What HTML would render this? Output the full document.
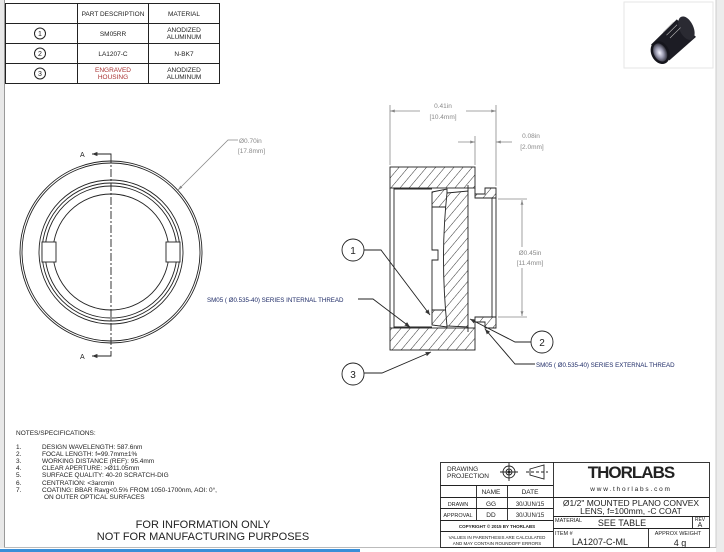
<!DOCTYPE html>
<html><head><meta charset="utf-8"><style>
html,body{margin:0;padding:0;background:#fff;}
svg{display:block;font-family:"Liberation Sans",sans-serif;}
</style></head><body>
<svg width="724" height="552" viewBox="0 0 724 552" xmlns="http://www.w3.org/2000/svg">
<defs>
<pattern id="h" patternUnits="userSpaceOnUse" width="7" height="7" patternTransform="rotate(40)">
<rect width="7" height="7" fill="#fff"/><line x1="0" y1="0" x2="0" y2="7" stroke="#333" stroke-width="1"/>
</pattern>
<marker id="ar" viewBox="0 0 10 10" refX="10" refY="5" markerWidth="6" markerHeight="6" orient="auto-start-reverse"><path d="M0,1 L10,5 L0,9z" fill="#333"/></marker>
<marker id="ag" viewBox="0 0 10 10" refX="10" refY="5" markerWidth="6" markerHeight="6" orient="auto-start-reverse"><path d="M0,2 L10,5 L0,8z" fill="#888"/></marker>
<radialGradient id="lg" cx="0.45" cy="0.5" r="0.55"><stop offset="0" stop-color="#f4f4ff"/><stop offset="0.5" stop-color="#9a9ab0"/><stop offset="1" stop-color="#2a2a34"/></radialGradient>
</defs>
<rect x="716" y="0" width="8" height="552" fill="#ececec"/>
<line x1="716" y1="0" x2="716" y2="548" stroke="#ccc"/>
<rect x="0" y="0" width="4" height="548" fill="#e8e8e8"/>
<line x1="4.5" y1="0" x2="4.5" y2="548" stroke="#999"/>
<line x1="4" y1="547.5" x2="716" y2="547.5" stroke="#bbb"/>
<rect x="0" y="549" width="360" height="3" fill="#3a8fd8"/>

<!-- parts table -->
<g stroke="#222" stroke-width="1" fill="none">
<rect x="5.5" y="3.5" width="214" height="80"/>
<line x1="5" y1="23.5" x2="220" y2="23.5"/><line x1="5" y1="43.5" x2="220" y2="43.5"/><line x1="5" y1="63.5" x2="220" y2="63.5"/>
<line x1="77.5" y1="3" x2="77.5" y2="84"/><line x1="148.5" y1="3" x2="148.5" y2="84"/>
<circle cx="40" cy="33.5" r="5.5"/><circle cx="40" cy="53.5" r="5.5"/><circle cx="40" cy="73.5" r="5.5"/>
</g>
<g font-size="6.5" fill="#222" text-anchor="middle">
<text x="113" y="16">PART DESCRIPTION</text><text x="184" y="16">MATERIAL</text>
<text x="40" y="36" font-size="7">1</text><text x="40" y="56" font-size="7">2</text><text x="40" y="76" font-size="7">3</text>
<text x="113" y="36">SM05RR</text><text x="184" y="32">ANODIZED</text><text x="184" y="39">ALUMINUM</text>
<text x="113" y="56">LA1207-C</text><text x="184" y="56">N-BK7</text>
<text x="113" y="72" fill="#a33">ENGRAVED</text><text x="113" y="79" fill="#a33">HOUSING</text><text x="184" y="72">ANODIZED</text><text x="184" y="79">ALUMINUM</text>
</g>
<!-- product image -->
<rect x="624" y="2" width="89" height="66" fill="#fff" stroke="#e6e6e6"/>
<g transform="translate(670,38) rotate(-25)">
<path d="M-20,-2 L14,-14 L24,10 L-10,20 Z" fill="#1c1c24"/>
<ellipse cx="19" cy="-2" rx="7" ry="12.5" fill="#2a2a32"/>
<ellipse cx="-15" cy="9" rx="9" ry="12" fill="#15151c"/>
<ellipse cx="-15" cy="9" rx="6.5" ry="9.5" fill="url(#lg)"/>
<path d="M-4,-8 L10,-13 M-2,-4 L12,-9 M0,0 L14,-5" stroke="#bbb" stroke-width="0.6"/>
</g>

<!-- front view -->
<g stroke="#222" fill="none" stroke-width="0.9">
<circle cx="111" cy="252" r="91"/><circle cx="111" cy="252" r="89"/>
<circle cx="111" cy="252" r="72"/><circle cx="111" cy="252" r="69"/><circle cx="111" cy="252" r="66"/><circle cx="111" cy="252" r="58"/>
<rect x="42" y="242" width="14" height="20" fill="#fff"/><rect x="166" y="242" width="14" height="20" fill="#fff"/>
<line x1="111" y1="155" x2="111" y2="355" stroke-dasharray="8,2,2,2"/>
<polyline points="111,155 111,154 92,154" marker-end="url(#ar)"/>
<polyline points="111,355 111,356 92,356" marker-end="url(#ar)"/>
</g>
<g font-size="7" fill="#222"><text x="80" y="157">A</text><text x="80" y="359">A</text></g>
<polyline points="178,190 228,140 238,140" fill="none" stroke="#888" stroke-width="0.8" marker-start="url(#ag)"/>
<g font-size="6.5" fill="#888"><text x="239" y="143">Ø0.70in</text><text x="238" y="153">[17.8mm]</text></g>

<!-- section view -->
<g stroke="#222" stroke-width="0.9">
<rect x="390" y="167" width="85" height="21" fill="url(#h)"/>
<rect x="390" y="328" width="85" height="22" fill="url(#h)"/>
<line x1="390" y1="188" x2="390" y2="328"/><line x1="394" y1="188" x2="394" y2="328"/>
<path d="M475,188 L475,194 L485,194 L485,188 L496,188 L496,198 L475,198 Z" fill="url(#h)"/>
<path d="M475,328 L475,322 L485,322 L485,328 L496,328 L496,317 L475,317 Z" fill="url(#h)"/>
<line x1="496" y1="198" x2="496" y2="317" fill="none"/><line x1="492" y1="198" x2="492" y2="317" fill="none"/>
<path d="M432,192 L447,189 L447,207 L432,207 Z" fill="url(#h)"/>
<path d="M432,310 L447,310 L447,327 L432,325 Z" fill="url(#h)"/>
<path d="M432,207 L432,250 L438,250 L438,260 L432,260 L432,310" fill="none"/>
<path d="M447,193 L468,191 L468,327 L447,326 Q440,258 447,193 Z" fill="url(#h)"/>
<line x1="468" y1="185" x2="468" y2="191"/><line x1="468" y1="327" x2="468" y2="332"/>
<line x1="394" y1="189" x2="432" y2="189"/><line x1="394" y1="327" x2="432" y2="327"/>
</g>
<!-- dims -->
<g stroke="#888" stroke-width="0.8" fill="none">
<line x1="390" y1="105" x2="390" y2="165"/><line x1="496" y1="105" x2="496" y2="186"/>
<line x1="390" y1="111" x2="420" y2="111" marker-start="url(#ag)"/><line x1="466" y1="111" x2="496" y2="111" marker-end="url(#ag)"/>
<line x1="475" y1="136" x2="475" y2="165"/>
<line x1="458" y1="142" x2="475" y2="142" marker-end="url(#ag)"/><line x1="496" y1="142" x2="512" y2="142" marker-start="url(#ag)"/>
<line x1="498" y1="199" x2="527" y2="199"/><line x1="498" y1="317" x2="527" y2="317"/>
<line x1="522" y1="200" x2="522" y2="247" marker-start="url(#ag)"/><line x1="522" y1="268" x2="522" y2="316" marker-end="url(#ag)"/>
</g>
<g font-size="6.5" fill="#888" text-anchor="middle">
<text x="443" y="108">0.41in</text><text x="443" y="119">[10.4mm]</text>
<text x="531" y="138">0.08in</text><text x="532" y="149">[2.0mm]</text>
<text x="530" y="255">Ø0.45in</text><text x="530" y="265">[11.4mm]</text>
</g>
<!-- callouts -->
<g stroke="#222" stroke-width="0.9" fill="none">
<circle cx="353" cy="250" r="11"/><circle cx="353" cy="374" r="11"/><circle cx="542" cy="342" r="11"/>
<polyline points="364,250 381,250 430,315" marker-end="url(#ar)"/>
<polyline points="364,373 382,373 431,352" marker-end="url(#ar)"/>
<polyline points="531,342 515,342 470,319" marker-end="url(#ar)"/>
<polyline points="358,299 373,299 410,327" marker-end="url(#ar)"/>
<polyline points="535,364 515,364 485,329" marker-end="url(#ar)"/>
</g>
<g font-size="10" fill="#222" text-anchor="middle"><text x="353" y="254">1</text><text x="353" y="378">3</text><text x="542" y="346">2</text></g>
<g font-size="6.2" fill="#1d2a66"><text x="207" y="302">SM05 ( Ø0.535-40) SERIES INTERNAL THREAD</text>
<text x="536" y="367">SM05 ( Ø0.535-40) SERIES EXTERNAL THREAD</text></g>

<!-- notes -->
<g font-size="6.5" fill="#222">
<text x="16" y="435">NOTES/SPECIFICATIONS:</text>
<text x="16" y="449">1.</text><text x="42" y="449">DESIGN WAVELENGTH: 587.6nm</text>
<text x="16" y="456">2.</text><text x="42" y="456">FOCAL LENGTH: f=99.7mm±1%</text>
<text x="16" y="463">3.</text><text x="42" y="463">WORKING DISTANCE (REF): 95.4mm</text>
<text x="16" y="470">4.</text><text x="42" y="470">CLEAR APERTURE: &gt;Ø11.05mm</text>
<text x="16" y="477">5.</text><text x="42" y="477">SURFACE QUALITY: 40-20 SCRATCH-DIG</text>
<text x="16" y="485">6.</text><text x="42" y="485">CENTRATION: &lt;3arcmin</text>
<text x="16" y="492">7.</text><text x="42" y="492">COATING: BBAR Ravg&lt;0.5% FROM 1050-1700nm, AOI: 0°,</text>
<text x="44" y="499">ON OUTER OPTICAL SURFACES</text>
</g>
<g font-size="11" fill="#222" text-anchor="middle"><text x="203" y="528">FOR INFORMATION ONLY</text><text x="203" y="540">NOT FOR MANUFACTURING PURPOSES</text></g>

<!-- title block -->
<g stroke="#222" stroke-width="0.9" fill="none">
<rect x="440.5" y="462.5" width="269" height="85"/>
<line x1="553.5" y1="462" x2="553.5" y2="548"/>
<line x1="440" y1="485.5" x2="553" y2="485.5"/><line x1="440" y1="497.5" x2="709" y2="497.5"/>
<line x1="440" y1="508.5" x2="553" y2="508.5"/><line x1="440" y1="520.5" x2="553" y2="520.5"/>
<line x1="440" y1="531.5" x2="553" y2="531.5"/>
<line x1="476.5" y1="485" x2="476.5" y2="520"/><line x1="507.5" y1="485" x2="507.5" y2="520"/>
<line x1="553" y1="516.5" x2="709" y2="516.5"/><line x1="553" y1="528.5" x2="709" y2="528.5"/>
<line x1="692.5" y1="516" x2="692.5" y2="528"/><line x1="648.5" y1="528" x2="648.5" y2="548"/>
<circle cx="509" cy="472" r="6"/><circle cx="509" cy="472" r="3"/><circle cx="509" cy="472" r="1" fill="#222"/>
<line x1="500" y1="472" x2="518" y2="472"/><line x1="509" y1="463" x2="509" y2="481"/>
<path d="M530,469 L544,465 L544,479 L530,475 Z"/><line x1="526" y1="472" x2="548" y2="472" stroke-dasharray="3,2"/>
</g>
<g fill="#222" font-size="6.5">
<text x="447" y="471">DRAWING</text><text x="447" y="478">PROJECTION</text>
<text x="491" y="494" text-anchor="middle">NAME</text><text x="530" y="494" text-anchor="middle">DATE</text>
<text x="458" y="506" text-anchor="middle" font-size="5.5">DRAWN</text><text x="491" y="506" text-anchor="middle">GG</text><text x="530" y="506" text-anchor="middle" font-size="6">30/JUN/15</text>
<text x="458" y="517" text-anchor="middle" font-size="5.5">APPROVAL</text><text x="491" y="517" text-anchor="middle">DD</text><text x="530" y="517" text-anchor="middle" font-size="6">30/JUN/15</text>
<text x="497" y="528" text-anchor="middle" font-size="4.5" font-weight="bold">COPYRIGHT © 2015 BY THORLABS</text>
<text x="497" y="539" text-anchor="middle" font-size="4.5">VALUES IN PARENTHESIS ARE CALCULATED</text>
<text x="497" y="545" text-anchor="middle" font-size="4.5">AND MAY CONTAIN ROUNDOFF ERRORS</text>
<text x="631" y="478" text-anchor="middle" font-size="17" font-weight="bold" letter-spacing="-1">THORLABS</text>
<text x="631" y="491" text-anchor="middle" font-size="6.5" letter-spacing="1.8">www.thorlabs.com</text>
<text x="631" y="506" text-anchor="middle" font-size="8.5">Ø1/2" MOUNTED PLANO CONVEX</text>
<text x="631" y="514" text-anchor="middle" font-size="8.5">LENS, f=100mm, -C COAT</text>
<text x="555" y="522" font-size="5.5">MATERIAL</text><text x="622" y="526" text-anchor="middle" font-size="9">SEE TABLE</text>
<text x="700" y="521" text-anchor="middle" font-size="5">REV</text><text x="700" y="527" text-anchor="middle" font-size="7">A</text>
<text x="555" y="535" font-size="5.5">ITEM #</text><text x="600" y="545" text-anchor="middle" font-size="9">LA1207-C-ML</text>
<text x="678" y="535" text-anchor="middle" font-size="5.5">APPROX WEIGHT</text><text x="680" y="546" text-anchor="middle" font-size="9">4 g</text>
</g>
</svg>
</body></html>
